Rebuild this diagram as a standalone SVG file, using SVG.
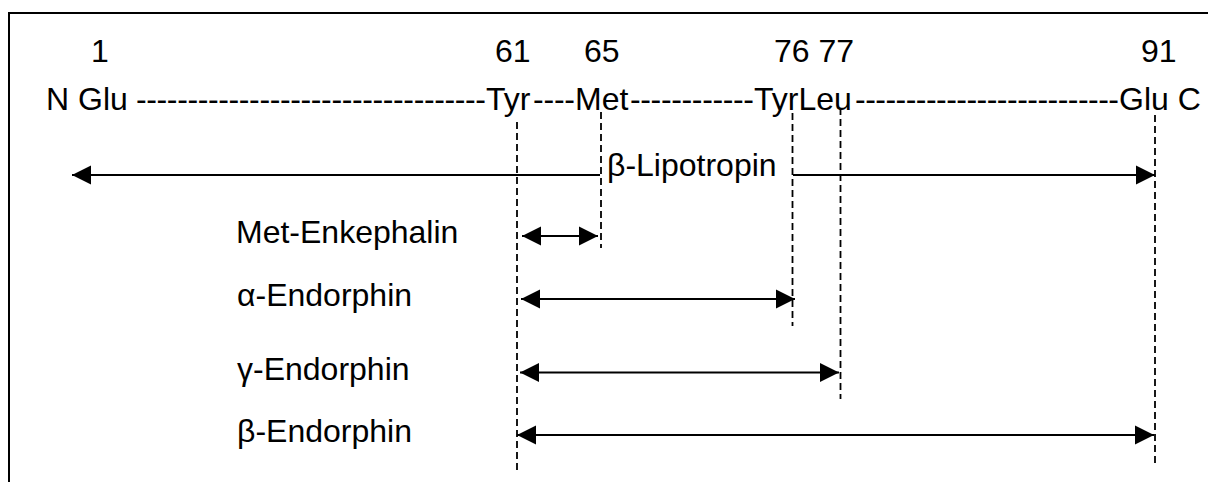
<svg xmlns="http://www.w3.org/2000/svg" width="1208" height="482" viewBox="0 0 1208 482">
<style>
text{font-family:"Liberation Sans",Arial,sans-serif;font-size:32px;fill:#000}
.frame{fill:none;stroke:#000;stroke-width:2}
.guide{stroke:#000;stroke-width:1.8;stroke-dasharray:7,4;fill:none}
.arrow{stroke:#000;stroke-width:2;fill:none}
</style>
<defs>
<marker id="ah" markerUnits="userSpaceOnUse" markerWidth="20" markerHeight="20" viewBox="0 0 20 20" refX="19" refY="10" orient="auto-start-reverse">
<path d="M0,0.5 L19,10 L0,19.5 z" fill="#000"/>
</marker>
</defs>
<rect width="1208" height="482" fill="#fff"/>
<path class="frame" d="M9,482 V13 H1208"/>
<g id="numbers">
<text x="91" y="62">1</text>
<text x="495" y="62">61</text>
<text x="584" y="62">65</text>
<text x="774" y="62">76 77</text>
<text x="1141" y="62">91</text>
</g>
<g id="sequence">
<text x="46" y="110">N Glu</text>
<text x="136" y="110" textLength="350" lengthAdjust="spacing">----------------------------------</text>
<text x="486" y="110">Tyr</text>
<text x="533" y="110" textLength="42" lengthAdjust="spacing">----</text>
<text x="575" y="110">Met</text>
<text x="630" y="110" textLength="124" lengthAdjust="spacing">------------</text>
<text x="754" y="110">TyrLeu</text>
<text x="855" y="110" textLength="264" lengthAdjust="spacing">--------------------------</text>
<text x="1119" y="110">Glu C</text>
</g>
<g id="guides">
<line class="guide" x1="517" y1="122" x2="517" y2="474"/>
<line class="guide" x1="601" y1="112" x2="601" y2="248"/>
<line class="guide" x1="792.5" y1="113" x2="792.5" y2="326"/>
<line class="guide" x1="840.5" y1="108" x2="840.5" y2="399"/>
<line class="guide" x1="1155" y1="115" x2="1155" y2="467"/>
</g>
<g id="connectors">
<line class="arrow" x1="600" y1="175" x2="72" y2="175" marker-end="url(#ah)"/>
<line class="arrow" x1="793" y1="175" x2="1155" y2="175" marker-end="url(#ah)"/>
<line class="arrow" x1="522" y1="236" x2="598" y2="236" marker-start="url(#ah)" marker-end="url(#ah)"/>
<line class="arrow" x1="521" y1="299" x2="795" y2="299" marker-start="url(#ah)" marker-end="url(#ah)"/>
<line class="arrow" x1="520" y1="372.5" x2="839" y2="372.5" marker-start="url(#ah)" marker-end="url(#ah)"/>
<line class="arrow" x1="517" y1="435" x2="1154" y2="435" marker-start="url(#ah)" marker-end="url(#ah)"/>
</g>
<g id="lipotropin">
<text x="607" y="176">β-Lipotropin</text>
</g>
<g id="met-enkephalin">
<text x="236" y="243">Met-Enkephalin</text>
</g>
<g id="alpha-endorphin">
<text x="237" y="306">α-Endorphin</text>
</g>
<g id="gamma-endorphin">
<text x="237" y="380">γ-Endorphin</text>
</g>
<g id="beta-endorphin">
<text x="237" y="442">β-Endorphin</text>
</g>
</svg>
